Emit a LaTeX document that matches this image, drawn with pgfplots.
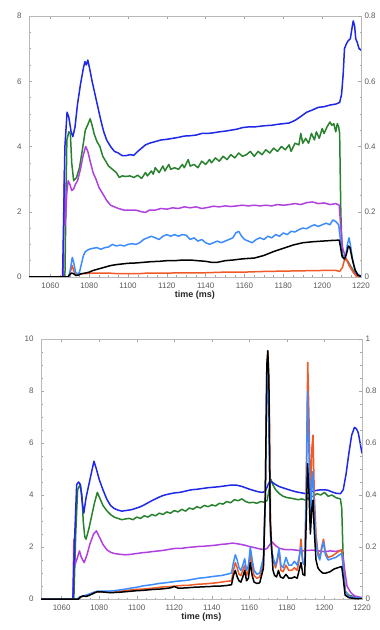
\documentclass[border=0pt]{standalone}
\usepackage{fontspec}
\setmainfont{Liberation Sans}
\usepackage{pgfplots}
\pgfplotsset{compat=1.18}
\definecolor{cblue}{RGB}{30,40,230}
\definecolor{cgreen}{RGB}{40,130,45}
\definecolor{cpurple}{RGB}{176,64,224}
\definecolor{clblue}{RGB}{60,140,255}
\definecolor{corange}{RGB}{240,90,40}
\definecolor{tickgray}{RGB}{90,90,90}
\pgfplotsset{
  myax/.style={
    scale only axis, xmin=1049, xmax=1220, ymin=0,
    axis line style={draw=gray!55},
    tick style={draw=gray!70, thin},
    tick align=inside, major tick length=3pt, minor tick length=1.5pt,
    xtick={1060,1080,...,1220}, minor x tick num=3,
    ticklabel style={font=\fontsize{8}{9}\selectfont, text=tickgray},
    /pgf/number format/assume math mode=true,
    /pgf/number format/1000 sep={},
    yticklabel style={xshift=-4pt},
    xticklabel style={yshift=-2pt},
    xlabel={\textbf{time (ms)}},
    xlabel style={font=\fontsize{9}{10}\selectfont, text=black!85, yshift=4pt},
    every axis plot/.append style={line width=1.5pt, line join=round, no markers},
  },
  rax/.style={
    scale only axis, xmin=1049, xmax=1220, ymin=0,
    hide x axis, axis y line*=right,
    axis line style={draw=gray!55},
    tick style={draw=gray!70, thin},
    tick align=inside, major tick length=3pt, minor tick length=1.5pt,
    ticklabel style={font=\fontsize{8}{9}\selectfont, text=tickgray},
    /pgf/number format/assume math mode=true,
  }
}
\begin{document}
\begin{tikzpicture}
% ---------------- top panel ----------------
\begin{axis}[myax, at={(29pt,353pt)}, anchor=south west, width=332pt, height=261pt,
  ymax=8, ytick={0,2,4,6,8}, minor y tick num=3, ytick pos=left]
\addplot[cgreen] coordinates {(1049,0) (1067.5,0) (1068.5,4.2) (1069.5,4.45) (1070.3,4.4) (1071,3.5) (1072,2.95) (1073.5,3.05) (1075,3.35) (1076.5,3.9) (1078,4.5) (1079.5,4.7) (1080.5,4.85) (1081.5,4.65) (1082.5,4.4) (1084,4.15) (1085.5,4.0) (1087,3.7) (1088.5,3.55) (1090,3.4) (1092,3.3) (1094,3.2) (1095.5,3.05) (1097,3.1) (1099,3.08) (1101,3.1) (1103,3.05) (1105,3.12) (1107,3.02) (1109,3.2) (1110,3.1) (1112,3.25) (1113,3.15) (1114,3.35) (1116,3.2) (1118,3.4) (1119,3.25) (1121,3.45) (1122,3.3) (1124,3.35) (1126,3.3) (1128,3.45) (1129,3.35) (1131,3.6) (1132,3.4) (1134,3.45) (1136,3.35) (1138,3.55) (1140,3.45) (1142,3.6) (1143,3.5) (1145,3.65) (1147,3.55) (1149,3.7) (1151,3.6) (1153,3.75) (1155,3.65) (1157,3.8) (1159,3.7) (1161,3.75) (1163,3.85) (1165,3.7) (1167,3.85) (1169,3.75) (1171,3.9) (1173,3.8) (1175,3.95) (1177,3.85) (1179,4.0) (1181,3.9) (1183,4.05) (1184,3.85) (1186,4.1) (1188,4.05) (1189,4.4) (1190,4.1) (1191.5,4.25) (1193,4.1) (1194.5,4.4) (1196,4.2) (1197,4.45) (1198.5,4.25) (1200,4.55) (1201,4.4) (1202.5,4.6) (1204,4.75) (1205,4.65) (1206,4.7) (1207,4.45) (1207.8,4.7) (1208.5,4.6) (1209,4.4) (1209.6,2.0) (1210.3,0.7) (1211.5,0.55) (1213,0.5) (1215,0.3) (1217,0.1) (1218.5,0.02) (1220,0)};
\addplot[cpurple] coordinates {(1049,0) (1066.7,0) (1067.2,3.25) (1067.6,1.6) (1068.5,2.6) (1069.2,2.95) (1070,2.85) (1071,2.65) (1072,2.7) (1073,2.85) (1074,2.95) (1075.5,3.3) (1076.8,3.7) (1078.2,4.0) (1079.3,3.85) (1080.5,3.55) (1082,3.2) (1083.5,3.0) (1085,2.75) (1087,2.55) (1089,2.35) (1091,2.2) (1093,2.15) (1095,2.1) (1098,2.05) (1101,2.05) (1104,2.05) (1107,2.0) (1109,1.98) (1111,2.05) (1114,2.05) (1117,2.1) (1120,2.08) (1123,2.12) (1126,2.1) (1129,2.15) (1132,2.12) (1135,2.15) (1138,2.1) (1141,2.13) (1144,2.17) (1147,2.15) (1150,2.18) (1153,2.16) (1156,2.18) (1159,2.2) (1162,2.18) (1165,2.2) (1168,2.18) (1171,2.2) (1174,2.18) (1177,2.22) (1180,2.2) (1183,2.22) (1186,2.25) (1189,2.22) (1192,2.28) (1195,2.3) (1198,2.25) (1201,2.27) (1204,2.22) (1207,2.25) (1208.8,2.2) (1209.5,1.6) (1210.5,0.9) (1212,0.6) (1214,0.35) (1216,0.15) (1218,0.02) (1220,0)};
\addplot[cblue] coordinates {(1049,0) (1066.3,0) (1067.5,4.0) (1068.6,5.05) (1069.5,4.9) (1070.7,4.45) (1071.6,4.3) (1072.7,4.6) (1074,5.3) (1075.5,5.9) (1077,6.4) (1077.8,6.6) (1078.5,6.5) (1079.3,6.65) (1080.2,6.4) (1081.5,6.0) (1083,5.6) (1084.5,5.2) (1086,4.8) (1087.5,4.45) (1089,4.2) (1091,4.0) (1093,3.85) (1095,3.8) (1097,3.72) (1099,3.72) (1101,3.75) (1103,3.73) (1105,3.85) (1107,3.95) (1109,4.05) (1111,4.1) (1114,4.15) (1117,4.2) (1120,4.22) (1123,4.25) (1126,4.28) (1129,4.32) (1132,4.33) (1135,4.35) (1138,4.4) (1141,4.4) (1144,4.42) (1147,4.45) (1150,4.47) (1153,4.5) (1156,4.53) (1159,4.58) (1162,4.6) (1165,4.6) (1168,4.62) (1171,4.64) (1174,4.65) (1177,4.68) (1180,4.7) (1183,4.72) (1186,4.8) (1189,4.92) (1192,5.05) (1195,5.12) (1198,5.2) (1201,5.22) (1204,5.27) (1207,5.3) (1209,5.35) (1210,5.6) (1210.8,6.2) (1211.5,7.0) (1212.5,7.15) (1213.5,7.25) (1214.5,7.3) (1215.3,7.6) (1216,7.85) (1216.7,7.7) (1217.3,7.3) (1218,7.2) (1219,7.0) (1220,6.95)};
\addplot[corange] coordinates {(1049,0) (1069.5,0) (1070.5,0.2) (1071.3,0.35) (1072,0.2) (1073,0.08) (1075,0.1) (1078,0.1) (1080,0.12) (1085,0.12) (1090,0.12) (1095,0.1) (1100,0.1) (1105,0.1) (1110,0.12) (1120,0.12) (1130,0.13) (1140,0.13) (1150,0.15) (1160,0.15) (1170,0.17) (1180,0.18) (1190,0.19) (1200,0.2) (1207,0.2) (1209,0.17) (1210.5,0.3) (1211.8,0.6) (1212.5,0.55) (1214,0.35) (1216,0.15) (1217.5,0.03) (1220,0)};
\addplot[clblue] coordinates {(1049,0) (1069.5,0) (1070.5,0.3) (1071.3,0.6) (1072,0.45) (1073,0.15) (1074,0.08) (1075,0.15) (1076,0.4) (1077,0.65) (1078,0.78) (1080,0.85) (1082,0.88) (1084,0.9) (1086,0.85) (1088,0.9) (1090,0.92) (1092,1.0) (1094,0.95) (1096,0.98) (1098,0.95) (1100,1.0) (1102,1.02) (1104,1.0) (1106,1.05) (1108,1.15) (1110,1.2) (1112,1.25) (1114,1.2) (1116,1.15) (1118,1.25) (1120,1.3) (1122,1.25) (1124,1.3) (1126,1.25) (1128,1.3) (1130,1.28) (1132,1.15) (1134,1.2) (1136,1.1) (1138,1.15) (1140,1.05) (1142,1.0) (1144,1.05) (1146,1.1) (1148,1.05) (1150,1.1) (1152,1.15) (1154,1.2) (1155.5,1.35) (1157,1.4) (1158.5,1.25) (1160,1.15) (1162,1.1) (1164,1.05) (1166,1.15) (1168,1.2) (1170,1.15) (1172,1.25) (1174,1.2) (1176,1.3) (1178,1.25) (1180,1.35) (1182,1.3) (1184,1.4) (1186,1.38) (1188,1.45) (1190,1.5) (1192,1.48) (1194,1.55) (1196,1.6) (1198,1.55) (1200,1.6) (1202,1.65) (1204,1.6) (1205.5,1.75) (1207,1.7) (1208.5,1.6) (1209.3,1.2) (1210,0.7) (1211,0.6) (1212,0.6) (1213,1.0) (1213.8,1.2) (1214.5,1.0) (1215.5,0.6) (1216.5,0.3) (1218,0.1) (1220,0.03)};
\addplot[black] coordinates {(1049,0) (1069,0) (1070,0.08) (1071,0.12) (1072,0.1) (1073,0.05) (1074,0.05) (1076,0.1) (1078,0.12) (1080,0.15) (1082,0.2) (1085,0.25) (1088,0.3) (1091,0.35) (1094,0.38) (1097,0.4) (1100,0.42) (1104,0.43) (1108,0.45) (1112,0.47) (1116,0.48) (1120,0.5) (1124,0.5) (1128,0.52) (1132,0.52) (1136,0.5) (1140,0.48) (1143,0.45) (1146,0.45) (1150,0.5) (1154,0.52) (1158,0.55) (1162,0.57) (1165,0.58) (1170,0.66) (1175,0.78) (1180,0.88) (1185,0.98) (1190,1.05) (1195,1.08) (1200,1.1) (1205,1.12) (1208.8,1.13) (1209.5,0.9) (1210.3,0.62) (1211.5,0.55) (1212.5,0.7) (1213.5,0.95) (1214.3,0.9) (1215.5,0.55) (1217,0.2) (1218.5,0.05) (1220,0.02)};
\end{axis}
\begin{axis}[rax, at={(29pt,353pt)}, anchor=south west, width=332pt, height=261pt,
  ymax=0.8, ytick={0,0.2,0.4,0.6,0.8}, minor y tick num=3]
\addplot[draw=none] coordinates {(1049,0)};
\end{axis}
% ---------------- bottom panel ----------------
\begin{axis}[myax, at={(41pt,31pt)}, anchor=south west, width=321pt, height=260pt,
  ymax=10, ytick={0,2,4,6,8,10}, minor y tick num=3, ytick pos=left]
\addplot[cgreen] coordinates {(1049,0) (1066.5,0) (1067.5,2.5) (1068.5,4.2) (1069.8,4.4) (1070.8,4.0) (1071.5,3.0) (1072.3,2.4) (1073,2.3) (1074.5,2.7) (1076,3.2) (1077.5,3.7) (1079,4.1) (1080.5,3.85) (1082,3.6) (1084,3.4) (1086,3.25) (1088,3.15) (1090,3.1) (1092,3.05) (1094,3.08) (1096,3.1) (1098,3.05) (1100,3.15) (1102,3.1) (1104,3.2) (1106,3.15) (1108,3.25) (1110,3.2) (1112,3.3) (1114,3.25) (1116,3.35) (1118,3.3) (1120,3.4) (1122,3.35) (1124,3.45) (1126,3.38) (1128,3.5) (1130,3.45) (1132,3.55) (1134,3.5) (1136,3.6) (1138,3.55) (1140,3.62) (1142,3.58) (1144,3.68) (1146,3.65) (1148,3.75) (1150,3.7) (1152,3.82) (1154,3.78) (1156,3.85) (1158,3.75) (1160,3.7) (1162,3.72) (1164,3.68) (1166,3.75) (1168,3.72) (1169.5,3.8) (1170.5,4.2) (1171.5,4.6) (1172.5,4.4) (1174,4.2) (1176,4.05) (1178,3.95) (1180,3.9) (1182,3.88) (1184,3.85) (1186,3.82) (1188,3.85) (1190,3.8) (1192,3.9) (1194,3.95) (1196,4.05) (1198,4.0) (1200,4.1) (1202,3.95) (1204,4.0) (1206,3.9) (1208.5,3.85) (1209.2,3.5) (1210,1.5) (1211,0.3) (1213,0.15) (1216,0.08) (1220,0.05)};
\addplot[cpurple] coordinates {(1049,0) (1066,0) (1066.5,2.3) (1067,1.3) (1068,1.5) (1069.5,1.85) (1070.5,1.6) (1072,1.4) (1073.5,1.7) (1075,2.1) (1077,2.5) (1078.5,2.62) (1080,2.4) (1082,2.1) (1084,1.9) (1086,1.8) (1088,1.75) (1091,1.72) (1094,1.7) (1097,1.72) (1100,1.75) (1103,1.78) (1106,1.8) (1109,1.83) (1112,1.85) (1115,1.88) (1118,1.92) (1121,1.95) (1124,1.95) (1127,1.98) (1130,2.0) (1133,2.02) (1136,2.03) (1139,2.05) (1142,2.07) (1145,2.1) (1148,2.12) (1151,2.15) (1154,2.12) (1157,2.08) (1160,2.02) (1163,1.97) (1166,1.92) (1168,1.9) (1169.5,1.95) (1171,2.1) (1172,2.2) (1174,2.05) (1176,1.95) (1179,1.9) (1182,1.9) (1185,1.88) (1188,1.85) (1191,1.87) (1194,1.88) (1197,1.85) (1200,1.82) (1203,1.85) (1206,1.83) (1209,1.87) (1210,1.6) (1211,1.0) (1212,0.5) (1214,0.25) (1216,0.12) (1220,0.05)};
\addplot[cblue] coordinates {(1049,0) (1066,0) (1067,2.5) (1068,4.4) (1069,4.5) (1070,4.4) (1071,3.7) (1071.8,3.3) (1073,3.9) (1074.5,4.4) (1076,4.9) (1077.2,5.3) (1078.5,5.0) (1080,4.6) (1082,4.2) (1084,3.85) (1086,3.6) (1088,3.48) (1090,3.42) (1092,3.38) (1094,3.4) (1096,3.42) (1098,3.45) (1100,3.5) (1102,3.55) (1104,3.62) (1106,3.7) (1108,3.78) (1110,3.85) (1112,3.92) (1114,3.98) (1116,4.02) (1118,4.05) (1120,4.08) (1123,4.1) (1126,4.15) (1129,4.2) (1132,4.22) (1135,4.25) (1138,4.28) (1141,4.3) (1144,4.32) (1147,4.35) (1150,4.38) (1153,4.38) (1156,4.33) (1159,4.25) (1162,4.18) (1165,4.12) (1167,4.1) (1168.5,4.15) (1170,4.4) (1171,4.55) (1172,4.5) (1174,4.4) (1176,4.32) (1179,4.25) (1182,4.18) (1185,4.12) (1188,4.08) (1190,4.05) (1192,4.1) (1194,4.15) (1196,4.18) (1198,4.2) (1200,4.2) (1202,4.18) (1204,4.12) (1206,4.07) (1208.5,4.05) (1210,4.2) (1211.5,4.8) (1213,5.6) (1214.5,6.3) (1216,6.6) (1217,6.55) (1218,6.4) (1219,6.0) (1220,5.6)};
\addplot[corange] coordinates {(1049,0) (1068.5,0) (1069.5,0.05) (1071,0.1) (1073,0.12) (1075,0.18) (1077,0.25) (1079,0.28) (1082,0.27) (1085,0.25) (1088,0.26) (1091,0.3) (1094,0.32) (1097,0.35) (1100,0.37) (1103,0.38) (1106,0.4) (1109,0.42) (1112,0.45) (1115,0.47) (1118,0.48) (1121,0.5) (1124,0.52) (1127,0.52) (1130,0.55) (1133,0.57) (1136,0.58) (1139,0.6) (1142,0.62) (1145,0.65) (1148,0.68) (1150.5,0.7) (1151.5,1.1) (1152.5,1.4) (1153.5,1.2) (1154.5,0.95) (1155.5,0.9) (1156.5,1.1) (1157.5,1.3) (1158.5,0.9) (1159.5,1.1) (1160.5,1.7) (1161.5,1.3) (1162.5,0.9) (1164,0.8) (1165.5,0.85) (1166.5,1.1) (1167.5,1.4) (1168.5,4.0) (1169.3,8.8) (1169.9,9.5) (1170.6,7.5) (1171.3,3.0) (1172,1.8) (1173,1.4) (1174,1.2) (1175,1.5) (1175.8,1.9) (1176.8,1.1) (1178,1.05) (1179.5,1.3) (1181,1.1) (1182.5,1.1) (1184,1.2) (1185.5,1.1) (1186.5,1.5) (1187.5,2.3) (1188.5,1.4) (1189.5,1.3) (1190.3,4.5) (1191.1,9.1) (1191.9,6.5) (1192.6,3.5) (1193.3,5.8) (1193.9,6.3) (1194.6,4.0) (1195.5,2.5) (1196.5,1.8) (1197.5,1.6) (1198.5,2.0) (1199.5,2.3) (1200.5,1.8) (1202,1.6) (1204,1.65) (1206,1.75) (1208,1.85) (1209.2,1.9) (1210,1.3) (1211,0.3) (1213,0.1) (1216,0.05) (1220,0.02)};
\addplot[clblue] coordinates {(1049,0) (1068.5,0) (1069.5,0.08) (1071,0.1) (1073,0.15) (1075,0.2) (1077,0.25) (1079,0.3) (1082,0.3) (1085,0.3) (1088,0.32) (1091,0.35) (1094,0.38) (1097,0.42) (1100,0.45) (1103,0.5) (1106,0.53) (1109,0.56) (1112,0.6) (1115,0.62) (1118,0.65) (1121,0.68) (1124,0.7) (1127,0.72) (1130,0.76) (1133,0.8) (1136,0.82) (1139,0.85) (1142,0.88) (1145,0.9) (1148,0.95) (1150.5,1.0) (1151.5,1.4) (1152.5,1.7) (1153.5,1.5) (1154.5,1.2) (1155.5,1.1) (1156.5,1.3) (1157.5,1.55) (1158.5,1.1) (1159.5,1.3) (1160.5,2.0) (1161.5,1.5) (1162.5,1.1) (1164,0.95) (1165.5,1.0) (1166.5,1.3) (1167.5,1.6) (1168.5,4.0) (1169.3,8.5) (1169.8,9.3) (1170.5,6.0) (1171.2,2.5) (1172,1.8) (1173,1.5) (1174,1.3) (1175,1.6) (1175.8,1.95) (1176.8,1.3) (1178,1.2) (1179.5,1.6) (1181,1.3) (1182.5,1.3) (1184,1.45) (1185.5,1.3) (1186.5,1.6) (1187.5,2.0) (1188.5,1.4) (1189.5,1.3) (1190.3,4.0) (1191,8.0) (1191.8,5.5) (1192.5,2.8) (1193.2,4.5) (1193.8,4.9) (1194.5,3.5) (1195.5,2.2) (1196.5,1.7) (1197.5,1.5) (1198.5,1.9) (1199.5,2.2) (1200.5,1.7) (1202,1.5) (1204,1.55) (1206,1.6) (1208,1.7) (1209.2,1.75) (1210,1.2) (1211,0.3) (1213,0.1) (1216,0.05) (1220,0.03)};
\addplot[black] coordinates {(1049,0) (1069,0) (1070,0.08) (1071.5,0.12) (1073,0.1) (1075,0.15) (1077,0.22) (1079,0.28) (1082,0.27) (1085,0.25) (1088,0.25) (1091,0.26) (1094,0.28) (1097,0.3) (1100,0.32) (1103,0.33) (1106,0.35) (1109,0.37) (1112,0.38) (1115,0.4) (1118,0.43) (1120,0.48) (1122,0.42) (1124,0.42) (1127,0.43) (1130,0.45) (1133,0.46) (1136,0.47) (1139,0.48) (1142,0.5) (1145,0.5) (1148,0.52) (1150.5,0.55) (1151.5,0.9) (1152.5,1.1) (1153.5,0.85) (1154.5,0.7) (1155.5,0.65) (1156.5,0.85) (1157.5,1.1) (1158.5,0.7) (1159.5,0.8) (1160.5,1.4) (1161.5,0.9) (1162.5,0.65) (1164,0.6) (1165.5,0.62) (1166.5,0.9) (1167.5,1.2) (1168.5,4.0) (1169.3,9.0) (1169.8,9.55) (1170.4,8.5) (1171.1,3.0) (1171.8,2.0) (1172.6,1.1) (1173.5,0.9) (1174.5,0.85) (1175.5,1.1) (1176.5,0.85) (1178,0.8) (1179.5,0.95) (1181,0.8) (1182.5,0.8) (1184,0.85) (1185.5,0.8) (1186.5,1.1) (1187.5,1.4) (1188.5,0.95) (1189.5,0.9) (1190.3,3.0) (1191,5.2) (1191.8,4.0) (1192.5,2.5) (1193.3,3.5) (1193.9,3.8) (1194.6,2.6) (1195.5,1.5) (1196.5,1.2) (1197.5,1.1) (1199,1.0) (1201,1.0) (1203,1.05) (1205,1.15) (1207,1.2) (1209.2,1.25) (1210,0.8) (1211,0.15) (1213,0.05) (1216,0.02) (1220,0)};
\end{axis}
\begin{axis}[rax, at={(41pt,31pt)}, anchor=south west, width=321pt, height=260pt,
  ymax=1, ytick={0,0.2,0.4,0.6,0.8,1}, minor y tick num=3]
\addplot[draw=none] coordinates {(1049,0)};
\end{axis}
\pgfresetboundingbox
\path[use as bounding box] (0,0) rectangle (380pt,630pt);
\end{tikzpicture}
\end{document}
